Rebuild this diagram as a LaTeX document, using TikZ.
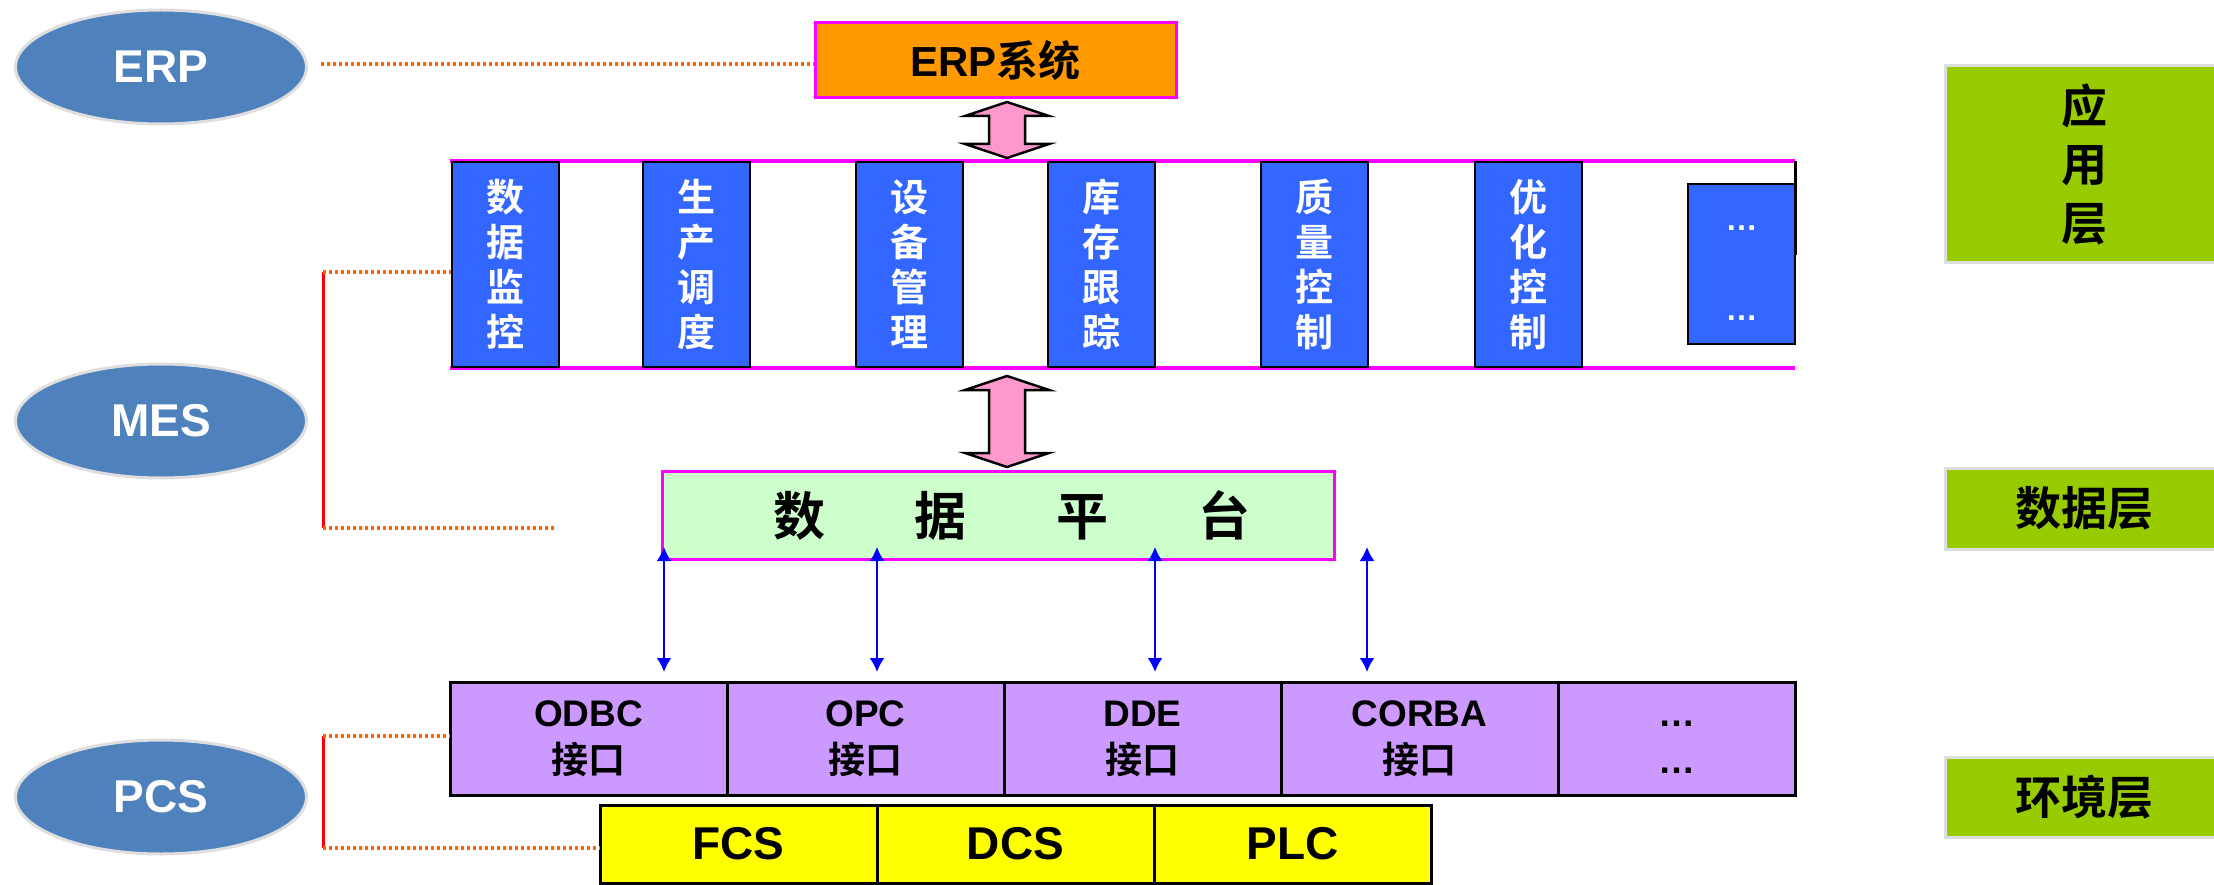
\documentclass[tikz,border=0pt]{standalone}
\usepackage{fontspec}
\setmainfont{Liberation Sans}
\newfontfamily\cjk{Noto Sans CJK SC}[BoldFont={Noto Sans CJK SC Bold}]
\usepackage{xcolor}
\usepackage{tikz}
\usetikzlibrary{calc, shapes.geometric, arrows.meta, positioning}
\definecolor{sysblue}{HTML}{4F81BD}
\definecolor{erporange}{HTML}{FF9900}
\definecolor{bandpink}{HTML}{FF00FF}
\definecolor{funcblue}{HTML}{3366FF}
\definecolor{arrowpink}{HTML}{FF99CC}
\definecolor{platgreen}{HTML}{CCFFCC}
\definecolor{ifacepurple}{HTML}{CC99FF}
\definecolor{ctrlyellow}{HTML}{FFFF00}
\definecolor{layergreen}{HTML}{99CC00}
\definecolor{linkorange}{HTML}{FF6600}
\newcommand{\zh}[1]{{\cjk #1}}
\newcommand{\fsz}[2]{\fontsize{#1}{#2}\selectfont}
\newcommand{\blockarrow}[2]{%
  \draw [blockarrow] let \p1 = (#1), \p2 = (#2) in
    (\x1,\y1) -- (\x1+42pt,\y1-14pt) -- (\x1+18pt,\y1-14pt) -- (\x1+18pt,\y2+14pt)
    -- (\x1+42pt,\y2+14pt) -- (\x1,\y2) -- (\x1-42pt,\y2+14pt) -- (\x1-18pt,\y2+14pt)
    -- (\x1-18pt,\y1-14pt) -- (\x1-42pt,\y1-14pt) -- cycle;
}
\tikzset{
    sysnode/.style = {draw=black!13, ellipse, fill=sysblue, line width=3pt, inner sep=0pt,
      minimum width=291pt, minimum height=114pt, text=white, font=\bfseries\fsz{46}{50}},
    magnode/.style = {draw=bandpink, rectangle, line width=3pt, inner sep=0pt},
    funcnode/.style = {draw, rectangle, fill=funcblue, line width=2pt, inner sep=0pt,
      minimum width=107pt, minimum height=205pt, text=white, align=center,
      font=\cjk\bfseries\fsz{38}{45}},
    layernode/.style = {draw=black!13, rectangle, fill=layergreen, line width=3pt, inner sep=0pt,
      minimum width=278pt, align=center, font=\cjk\bfseries\fsz{46}{58.5}},
    ifacenode/.style = {draw, rectangle, fill=ifacepurple, line width=3pt, inner sep=0pt, outer sep=0pt,
      minimum width=277pt, minimum height=113pt, align=center, font=\bfseries\fsz{37}{47}},
    ctrlnode/.style = {draw, rectangle, fill=ctrlyellow, line width=3pt, inner sep=0pt, outer sep=0pt,
      minimum width=277pt, minimum height=78pt, font=\bfseries\fsz{46}{50}},
    connect/.style = {blue, line width=2pt, {Latex[length=14pt,width=15pt]}-{Latex[length=14pt,width=15pt]}},
    linkline/.style = {draw=linkorange, line width=3.5pt, dash pattern=on 3pt off 3pt},
    bracketline/.style = {red, line width=3pt},
    blockarrow/.style = {draw, fill=arrowpink, line width=2.5pt, line join=miter}
}

\begin{document}
\begin{tikzpicture}[x=1pt, y=-1pt]
    \path [use as bounding box] (0,0) rectangle (2214,885);
    \clip (0,0) rectangle (2214,885);

    \node [sysnode, name=ERP] at (161,67) {ERP};
    \node [sysnode, name=MES] at (161,421) {MES};
    \node [sysnode, name=PCS] at (161,797) {PCS};

    \node [magnode, name=ERPsys, fill=erporange, minimum width=361pt, minimum height=75pt,
      font=\bfseries\fsz{42}{46}] at (995.5,60.5) {ERP\zh{系统}};

    \node [name=MESband, rectangle, inner sep=0pt, minimum width=1345pt, minimum height=207pt] at (1122.5,264.5) {};
    \draw [bandpink, line width=4pt] (MESband.north west) -- (MESband.north east);
    \draw [bandpink, line width=4pt] (MESband.south west) -- (MESband.south east);
    \draw [line width=3pt] (MESband.north east) -- ++(0,94);

    \node [funcnode, name=DataMon] at (505,264.5) {数\\据\\监\\控};
    \node [funcnode, name=ProdSched] at (696,264.5) {生\\产\\调\\度};
    \node [funcnode, name=EquipMgmt] at (909.5,264.5) {设\\备\\管\\理};
    \node [funcnode, name=StockTrack] at (1101.5,264.5) {库\\存\\跟\\踪};
    \node [funcnode, name=QualCtrl] at (1314.5,264.5) {质\\量\\控\\制};
    \node [funcnode, name=OptCtrl] at (1528.5,264.5) {优\\化\\控\\制};
    \node [funcnode, name=MoreFunc, minimum height=159pt, font=\bfseries\fsz{32}{90}] at (1741.5,264) {\vphantom{A}…\\…};

    \node [magnode, name=DataPlat, fill=platgreen, minimum width=672pt, minimum height=88pt,
      font=\cjk\bfseries\fsz{52}{56}] at (998,515)
      {\hspace*{28pt}数\hspace{90pt}据\hspace{90pt}平\hspace{90pt}台};

    \coordinate (ErpTip) at (1007,102);
    \coordinate (BandTip) at (1007,158);
    \coordinate (BandFoot) at (1007,376);
    \coordinate (PlatTip) at (1007,467);
    \blockarrow{ErpTip}{BandTip}
    \blockarrow{BandFoot}{PlatTip}

    \node [ifacenode, name=ODBC] at (588.5,738.5) {ODBC\\\zh{接口}};
    \node [ifacenode, name=OPC, right=0pt of ODBC] {OPC\\\zh{接口}};
    \node [ifacenode, name=DDE, right=0pt of OPC] {DDE\\\zh{接口}};
    \node [ifacenode, name=CORBA, right=0pt of DDE] {CORBA\\\zh{接口}};
    \node [ifacenode, name=MoreIface, right=0pt of CORBA, minimum width=237pt]
      {\vphantom{ODBC}…\\\vphantom{\zh{接口}}…};

    \node [ctrlnode, name=FCS] at (738.5,844) {FCS};
    \node [ctrlnode, name=DCS, right=0pt of FCS] {DCS};
    \node [ctrlnode, name=PLC, right=0pt of DCS] {PLC};

    \foreach \xa [count=\i] in {664,877,1155,1367} {
      \coordinate (PlatPort\i) at (\xa,547);
      \coordinate (IfacePort\i) at (\xa,672);
      \draw [connect] (PlatPort\i) -- (IfacePort\i);
    }

    \coordinate (ERPlink) at (321,64);
    \draw [linkline] (ERPlink) -- (ERPlink -| ERPsys.west);
    \coordinate (MESup) at (323,272);
    \coordinate (MESdown) at (323,528);
    \draw [bracketline] (MESup) -- (MESdown);
    \draw [linkline] (MESup) -- (MESup -| DataMon.west);
    \draw [linkline] (MESdown) -- ++(232,0);
    \coordinate (PCSup) at (323,736);
    \coordinate (PCSdown) at (323,848);
    \draw [bracketline] (PCSup) -- (PCSdown);
    \draw [linkline] (PCSup) -- (PCSup -| ODBC.west);
    \draw [linkline] (PCSdown) -- (PCSdown -| FCS.west);

    \node [layernode, name=AppLayer, minimum height=197pt] at (2084,164.5) {应\\用\\层};
    \node [layernode, name=DataLayer, minimum height=81pt] at (2084,508.5) {数据层};
    \node [layernode, name=EnvLayer, minimum height=80pt] at (2084,797) {环境层};
\end{tikzpicture}
\end{document}
